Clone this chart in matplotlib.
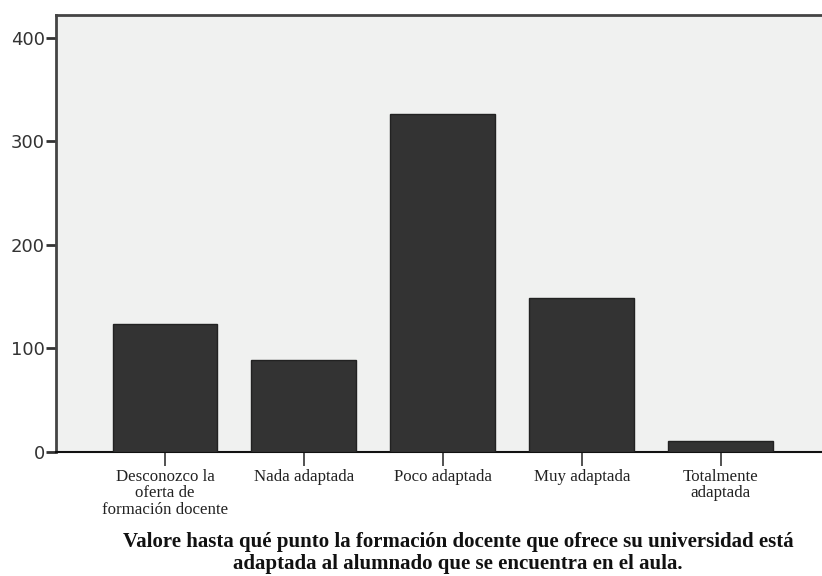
import matplotlib
matplotlib.use("Agg")
import matplotlib.pyplot as plt

categories = ["Desconozco la\noferta de\nformación docente", "Nada adaptada",
              "Poco adaptada", "Muy adaptada", "Totalmente\nadaptada"]
values = [124, 89, 326, 149, 11]
yticks = [0, 100, 200, 300, 400]
xlabel = ("Valore hasta qué punto la formación docente que ofrece su universidad está\n"
          "adaptada al alumnado que se encuentra en el aula.")

fig = plt.figure(figsize=(8.22, 5.76), dpi=100)
ax = fig.add_axes([56/822, 1-452/576, 1-56/822, (452-15)/576])
ax.set_facecolor("#f0f1f0")
x = list(range(len(categories)))
ax.bar(x, values, width=0.755, color="#333333", edgecolor="#222222", linewidth=1, zorder=3)
ax.set_xlim(-0.784, 4.727)
ax.set_ylim(0, 422)
ax.set_yticks(yticks)
ax.set_yticklabels([str(v) for v in yticks], fontsize=13, color="#333333", family="DejaVu Sans")
ax.set_xticks(x)
ax.set_xticklabels(categories, fontsize=12.2, family="Liberation Serif", color="#222222", linespacing=1.05)
ax.tick_params(axis="y", length=7, width=2, color="#333333", pad=1)
ax.tick_params(axis="x", length=10, width=1.2, color="#333333", pad=2)
for s in ["left", "top"]:
    ax.spines[s].set_linewidth(2)
    ax.spines[s].set_color("#444444")
ax.spines["right"].set_visible(False)
ax.spines["bottom"].set_linewidth(1.5)
ax.spines["bottom"].set_color("#111111")
fig.text(0.5 + 47/822, 1-553/576, xlabel, ha="center", va="center", fontsize=15,
         family="Liberation Serif", fontweight="bold", color="#111111", linespacing=1.1)
fig.savefig("out.png", dpi=100)
